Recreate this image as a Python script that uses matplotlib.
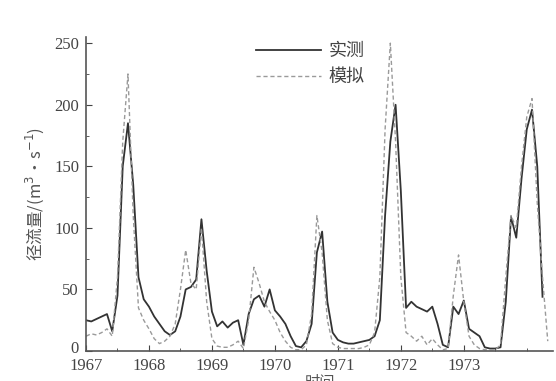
import matplotlib
matplotlib.use("Agg")
import matplotlib.pyplot as plt
import matplotlib.transforms as mtransforms
from matplotlib.ticker import MultipleLocator

# Monthly runoff, starting Jan 1967 (month index 0)
observed = [25, 24, 26, 28, 30, 16, 45, 150, 185, 135, 60, 42,
            36, 28, 22, 16, 13, 16, 28, 50, 52, 58, 107, 65,
            32, 20, 24, 19, 23, 25, 5, 30, 42, 45, 36, 50,
            33, 28, 22, 12, 4, 3, 8, 22, 80, 97, 40, 15,
            9, 7, 6, 6, 7, 8, 9, 12, 25, 110, 170, 200,
            130, 35, 40, 36, 34, 32, 36, 22, 5, 3, 36, 30,
            41, 18, 15, 12, 3, 2, 2, 3, 40, 109, 92, 140,
            180, 196, 150, 44]
simulated = [12, 14, 13, 15, 18, 12, 60, 170, 225, 110, 35, 25,
             18, 10, 6, 8, 12, 22, 50, 82, 55, 50, 100, 40,
             10, 4, 3, 3, 5, 8, 2, 25, 68, 55, 40, 32,
             25, 15, 8, 3, 1, 1, 5, 30, 110, 80, 25, 6,
             3, 2, 2, 2, 2, 3, 5, 15, 60, 180, 250, 170,
             60, 15, 12, 8, 12, 5, 10, 5, 1, 2, 45, 78,
             40, 12, 5, 2, 1, 1, 1, 5, 60, 110, 100, 150,
             190, 205, 120, 60, 8]
year_labels = ["1967", "1968", "1969", "1970", "1971", "1972", "1973"]
y_ticks = [0, 50, 100, 150, 200, 250]

plt.rcParams['font.family'] = ['Liberation Serif', 'Noto Sans CJK SC']

fig = plt.figure(figsize=(5.56, 3.81), dpi=100)
ax = fig.add_axes([86/556, 1-351/381, (553-86)/556, (351-37)/381])

ax.plot(range(len(observed)), observed, color='#333333', lw=1.3, label='实测')
ax.plot(range(len(simulated)), simulated, color='#9a9a9a', lw=1.0,
        ls=(0, (3, 2)), label='模拟')

ax.set_xlim(0, 89)
ax.set_ylim(0, 255)
ax.set_xticks([12*i for i in range(len(year_labels))])
ax.set_xticklabels(year_labels)
ax.set_yticks(y_ticks)
ax.xaxis.set_minor_locator(MultipleLocator(6))
ax.yaxis.set_minor_locator(MultipleLocator(25))
ax.tick_params(which='both', direction='in', labelsize=12, colors='#444444')
ax.tick_params(which='major', length=4)
ax.tick_params(which='minor', length=2)
ax.tick_params(axis='x', pad=5)
ax.tick_params(axis='y', pad=5)
for s in ['top', 'right']:
    ax.spines[s].set_visible(False)
for s in ['left', 'bottom']:
    ax.spines[s].set_color('#555555')
    ax.spines[s].set_linewidth(1.2)

# nudge the "0" label up a little so it clears "1967"
zero_lbl = ax.get_yticklabels()[0]
zero_lbl.set_transform(zero_lbl.get_transform() +
                       mtransforms.ScaledTranslation(0, 4/100, fig.dpi_scale_trans))

ax.set_ylabel('径流量/(m$^3$·s$^{-1}$)', fontsize=12, color='#555555',
              family=['Noto Sans CJK SC', 'DejaVu Sans'], labelpad=6)
ax.set_xlabel('时间', fontsize=11, color='#555555',
              family=['Noto Sans CJK SC', 'DejaVu Sans'], labelpad=0)

leg = ax.legend(loc='upper left', bbox_to_anchor=(0.33, 1.035), frameon=False,
                prop={'family': ['Noto Sans CJK SC', 'DejaVu Sans'], 'size': 13},
                handlelength=3.6, labelspacing=0.45, handletextpad=0.4)
for t in leg.get_texts():
    t.set_color('#444444')

fig.savefig('out.png', dpi=100, facecolor='white')
